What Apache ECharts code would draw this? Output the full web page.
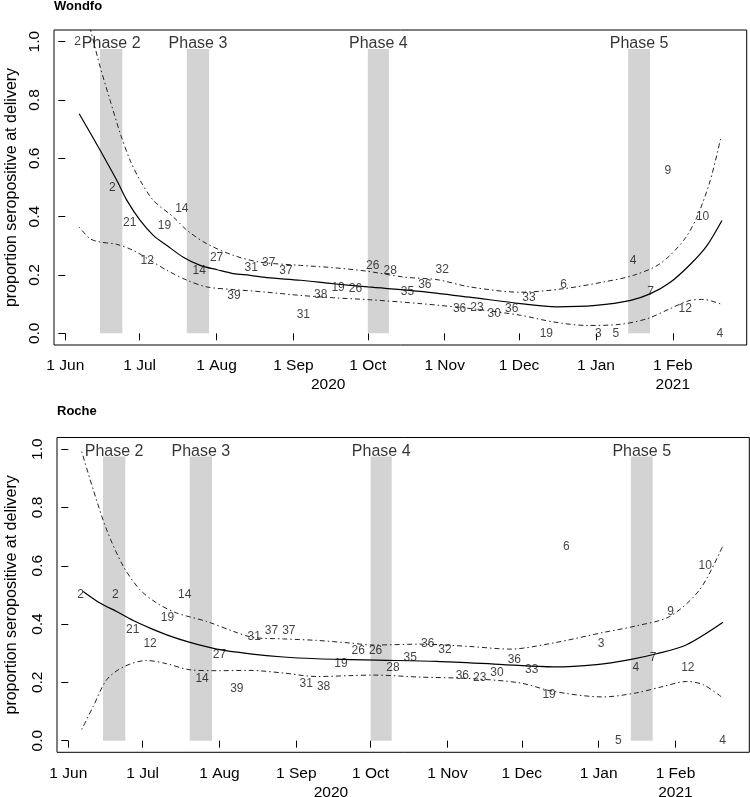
<!DOCTYPE html>
<html><head><meta charset="utf-8">
<script src="https://cdn.jsdelivr.net/npm/echarts@6/dist/echarts.min.js"></script>
<style>html,body{margin:0;padding:0;background:#fff}#c{width:750px;height:797px}</style>
</head><body><div id="c"></div>
<script>
// x values are days since 1 Jun 2020
const xTickDays = [0, 30, 61, 92, 122, 153, 183, 214, 245];
const xTickLabels = ['1 Jun', '1 Jul', '1 Aug', '1 Sep', '1 Oct', '1 Nov', '1 Dec', '1 Jan', '1 Feb'];
const yearDays = [106, 245];
const yearLabels = ['2020', '2021'];
const yTicks = [0, 0.2, 0.4, 0.6, 0.8, 1.0];
const panelTitles = ['Wondfo', 'Roche'];
const yTitle = 'proportion seropositive at delivery';

const phaseNames = ['Phase 2', 'Phase 3', 'Phase 4', 'Phase 5'];
const phaseStart = [14, 49, 122, 227];
const phaseEnd = [23, 58, 130.5, 235.8];
const phaseTop = 0.975;

const pointDays = [5, 19, 26, 33, 40, 47, 54, 61, 68, 75, 82, 89, 96, 103, 110, 117, 124, 131, 138, 145, 152, 159, 166, 173, 180, 187, 194, 201, 215, 222, 229, 236, 243, 250, 257, 264];
const pointN = [2, 2, 21, 12, 19, 14, 14, 27, 39, 31, 37, 37, 31, 38, 19, 26, 26, 28, 35, 36, 32, 36, 23, 30, 36, 33, 19, 6, 3, 5, 4, 7, 9, 12, 10, 4];
const wondfoProp = [1.0, 0.5, 0.381, 0.25, 0.368, 0.429, 0.214, 0.259, 0.128, 0.226, 0.243, 0.216, 0.065, 0.132, 0.158, 0.154, 0.231, 0.214, 0.143, 0.167, 0.219, 0.083, 0.087, 0.067, 0.083, 0.121, 0.0, 0.167, 0.0, 0.0, 0.25, 0.143, 0.556, 0.083, 0.4, 0.0];
const rocheProp = [0.5, 0.5, 0.381, 0.333, 0.421, 0.5, 0.214, 0.296, 0.179, 0.355, 0.378, 0.378, 0.194, 0.184, 0.263, 0.308, 0.308, 0.25, 0.286, 0.333, 0.3125, 0.222, 0.217, 0.233, 0.278, 0.242, 0.158, 0.667, 0.333, 0.0, 0.25, 0.286, 0.444, 0.25, 0.6, 0.0];

const wondfoFit = [[5.6,0.753],[14.1,0.627],[20.8,0.524],[24.9,0.455],[30.2,0.387],[35.5,0.336],[41,0.301],[47.6,0.261],[54.4,0.233],[61.2,0.218],[67.7,0.205],[74.6,0.199],[81.3,0.191],[94.8,0.182],[108,0.170],[122,0.159],[143,0.144],[163,0.124],[183.5,0.102],[198,0.091],[214,0.096],[228,0.113],[236,0.136],[244,0.175],[252,0.236],[258.7,0.300],[264.8,0.387]];
const wondfoUpper = [[5.5,1.19],[10.5,1.03],[14.1,0.912],[18.1,0.798],[22.2,0.684],[26.2,0.592],[30.2,0.524],[35.6,0.455],[43.7,0.398],[49.1,0.353],[57.1,0.307],[67.9,0.267],[78.6,0.244],[94.8,0.233],[108.2,0.225],[121.7,0.213],[136.4,0.193],[149.9,0.184],[163.3,0.159],[183.5,0.141],[200.9,0.153],[217,0.176],[229.2,0.199],[239.9,0.239],[249.3,0.318],[254.7,0.398],[260.1,0.524],[264.4,0.672]];
const wondfoLower = [[5.6,0.364],[10.1,0.324],[14.1,0.313],[20.8,0.305],[27.5,0.284],[34.3,0.25],[41,0.216],[49.1,0.182],[57.1,0.159],[67.9,0.15],[81.3,0.141],[94.8,0.13],[108.2,0.122],[123,0.115],[143.1,0.102],[163.3,0.085],[183.5,0.062],[196.9,0.039],[210.4,0.027],[223.8,0.031],[234.6,0.05],[244,0.085],[252,0.113],[257.4,0.116],[264.8,0.099]];

const rocheFit = [[6,0.512],[12.8,0.472],[19.5,0.443],[26.2,0.412],[33,0.386],[39.7,0.363],[49.1,0.337],[59.9,0.314],[73.3,0.298],[86.8,0.287],[100.2,0.281],[113.6,0.278],[125,0.276],[148.6,0.272],[175.5,0.261],[195.7,0.253],[213.2,0.261],[226.6,0.278],[237.4,0.298],[249.5,0.329],[264.2,0.406]];
const rocheUpper = [[5.4,0.992],[10.1,0.86],[15.5,0.723],[22.2,0.598],[28.9,0.518],[35.7,0.472],[43.7,0.438],[55.8,0.409],[66.6,0.375],[74.6,0.354],[86.8,0.349],[100.2,0.344],[113.6,0.335],[123,0.328],[141.9,0.331],[162.1,0.323],[178.2,0.314],[195.7,0.335],[215.8,0.371],[229.3,0.394],[242.7,0.426],[254.8,0.518],[264,0.666]];
const rocheLower = [[5.4,0.038],[10.1,0.118],[15.5,0.209],[22.2,0.253],[31.6,0.275],[39.7,0.264],[49.1,0.243],[59.9,0.24],[73.3,0.241],[86.8,0.232],[100.2,0.22],[113.6,0.223],[123,0.225],[141.9,0.218],[162.1,0.213],[182.3,0.198],[195.7,0.169],[215.8,0.15],[229.3,0.164],[240.1,0.186],[249.5,0.203],[256.2,0.192],[264.2,0.146]];

const FONT = '"Liberation Sans", Arial, sans-serif';
const X_MIN = -4.56, X_MAX = 274.8, Y_MIN = -0.04, Y_MAX = 1.04;
const DASH = [1.5, 3, 5, 3];

const grids = [
  { left: 54, top: 30, width: 692.7, height: 315 },
  { left: 57, top: 437.5, width: 692.3, height: 314.8 }
];
const nameGaps = [34, 37];
const titleTops = [0, 405];

const panels = [
  { prop: wondfoProp, fit: wondfoFit, upper: wondfoUpper, lower: wondfoLower },
  { prop: rocheProp, fit: rocheFit, upper: rocheUpper, lower: rocheLower }
];

const option = {
  animation: false,
  backgroundColor: '#fff',
  textStyle: { fontFamily: FONT, color: '#000' },
  title: panelTitles.map((t, i) => ({
    text: t, left: grids[i].left, top: titleTops[i],
    padding: 0,
    textStyle: { fontFamily: FONT, fontSize: 13, fontWeight: 'bold', color: '#000' }
  })),
  grid: grids.map(g => Object.assign({ show: true, borderColor: '#000', borderWidth: 1,
    backgroundColor: 'transparent', containLabel: false, outerBoundsMode: 'none' }, g)),
  xAxis: [],
  yAxis: [],
  series: []
};

grids.forEach((g, i) => {
  option.xAxis.push({
    type: 'value', gridIndex: i, min: X_MIN, max: X_MAX,
    axisLine: { show: false }, splitLine: { show: false },
    axisTick: { show: true, customValues: xTickDays, length: 7, lineStyle: { color: '#000', width: 1 } },
    axisLabel: { customValues: xTickDays, formatter: v => xTickLabels[xTickDays.indexOf(v)] || '',
      fontFamily: FONT, fontSize: 15.5, color: '#000', margin: 13 }
  });
  option.xAxis.push({
    type: 'value', gridIndex: i, min: X_MIN, max: X_MAX, position: 'bottom',
    axisLine: { show: false }, splitLine: { show: false }, axisTick: { show: false },
    axisLabel: { customValues: yearDays, formatter: v => yearLabels[yearDays.indexOf(v)] || '',
      fontFamily: FONT, fontSize: 15.5, color: '#000', margin: 32 }
  });
  option.yAxis.push({
    type: 'value', gridIndex: i, min: Y_MIN, max: Y_MAX,
    axisLine: { show: false }, splitLine: { show: false },
    axisTick: { show: true, customValues: yTicks, length: 7, lineStyle: { color: '#000', width: 1 } },
    axisLabel: { customValues: yTicks, formatter: v => v.toFixed(1), rotate: 90,
      fontFamily: FONT, fontSize: 15.5, color: '#000', margin: 11 },
    name: yTitle, nameLocation: 'middle', nameRotate: 90, nameGap: nameGaps[i], nameMoveOverlap: false,
    nameTextStyle: { fontFamily: FONT, fontSize: 16, color: '#000' }
  });

  const p = panels[i];
  // phase bars
  option.series.push({
    type: 'custom', xAxisIndex: 2 * i, yAxisIndex: i, silent: true, z: 1,
    data: phaseStart.map((s, k) => [s, phaseEnd[k], phaseTop]),
    encode: { x: [0, 1], y: 2 },
    renderItem: (params, api) => {
      const a = api.coord([api.value(0), api.value(2)]);
      const b = api.coord([api.value(1), 0]);
      return { type: 'rect', shape: { x: a[0], y: a[1], width: b[0] - a[0], height: b[1] - a[1] },
        style: { fill: '#d3d3d3' } };
    }
  });
  // phase labels
  option.series.push({
    type: 'scatter', xAxisIndex: 2 * i, yAxisIndex: i, silent: true, z: 3,
    symbolSize: 0.01, itemStyle: { color: 'rgba(0,0,0,0)' },
    data: phaseNames.map((n, k) => [(phaseStart[k] + phaseEnd[k]) / 2, 1.0, n]),
    label: { show: true, position: 'inside', offset: [0, 2], formatter: d => d.data[2],
      fontFamily: FONT, fontSize: 16, color: '#000' }
  });
  // curves
  [[p.fit, 'solid'], [p.upper, DASH], [p.lower, DASH]].forEach(([d, t]) => {
    option.series.push({
      type: 'line', xAxisIndex: 2 * i, yAxisIndex: i, silent: true, z: 2,
      data: d, showSymbol: false, symbol: 'none', smooth: 0.3, clip: true,
      lineStyle: { color: t === 'solid' ? '#000' : '#222', width: t === 'solid' ? 1.2 : 1, type: t }
    });
  });
  // point labels (n at proportion)
  option.series.push({
    type: 'scatter', xAxisIndex: 2 * i, yAxisIndex: i, silent: true, z: 4,
    symbolSize: 0.01, itemStyle: { color: 'rgba(0,0,0,0)' },
    data: pointDays.map((d, k) => [d, p.prop[k], pointN[k]]),
    label: { show: true, position: 'inside', formatter: d => String(d.data[2]),
      fontFamily: FONT, fontSize: 12, color: '#111' }
  });
});

const chart = echarts.init(document.getElementById('c'), null, { renderer: 'canvas' });
chart.setOption(option);
</script>
</body></html>
